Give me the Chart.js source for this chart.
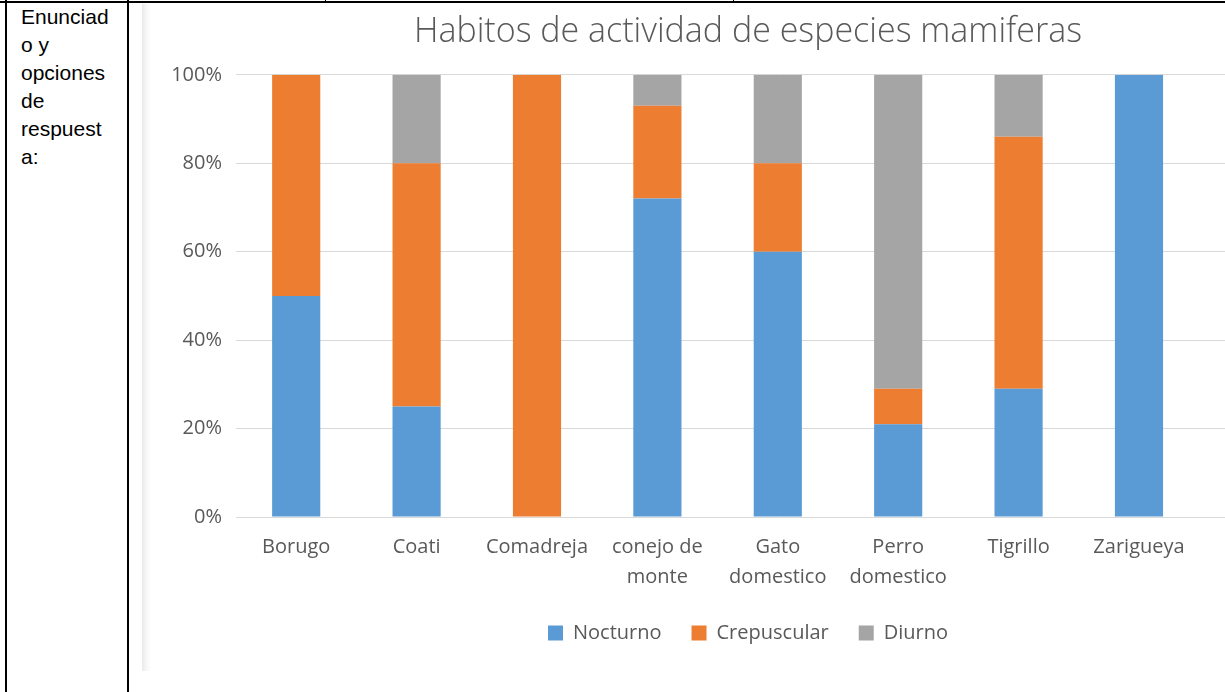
<!DOCTYPE html>
<html lang="es">
<head>
<meta charset="utf-8">
<title>Habitos de actividad de especies mamiferas</title>
<script src="https://cdn.jsdelivr.net/npm/chart.js@4/dist/chart.umd.min.js"></script>
<style>
    html, body {
        margin: 0;
        padding: 0;
        width: 1225px;
        height: 692px;
        overflow: hidden;
        background: #fff;
    }
    .linea { position: absolute; background: #000; }
    .celda {
        position: absolute;
        left: 21px;
        top: 3px;
        font-family: "Liberation Sans", Arial, sans-serif;
        font-size: 21px;
        line-height: 28px;
        color: #000;
    }
    .marco {
        position: absolute;
        left: 142px;
        top: 4px;
        width: 1200px;
        height: 667px;
        background: linear-gradient(to right, #e9e9e9 0px, #f6f6f6 4px, #fff 9px);
    }
    .grafico {
        position: absolute;
        left: 143px;
        top: 4px;
        width: 1200px;
        height: 667px;
    }
</style>
</head>
<body>
<!-- Bordes de la tabla del documento -->
<div class="linea" style="left:0; top:1px; width:1225px; height:2px;"></div>
<div class="linea" style="left:5px; top:0; width:2px; height:692px;"></div>
<div class="linea" style="left:127px; top:0; width:2px; height:692px;"></div>
<div class="linea" style="left:325px; top:0; width:1px; height:3px;"></div>
<div class="linea" style="left:733px; top:0; width:1px; height:3px;"></div>

<div class="celda">Enunciad<br>o y<br>opciones<br>de<br>respuest<br>a:</div>

<div class="marco"></div>
<div class="grafico"><canvas id="habitos-chart"></canvas></div>

<script>
/**
 * Grafico de barras apiladas al 100% - habitos de actividad por especie
 */

// Datos (porcentaje por especie)
const categorias = ['Borugo', 'Coati', 'Comadreja', ['conejo de', 'monte'], ['Gato', 'domestico'], ['Perro', 'domestico'], 'Tigrillo', 'Zarigueya'];
const nocturno = [50, 25, 0, 72, 60, 21, 29, 100];
const crepuscular = [50, 55, 100, 21, 20, 8, 57, 0];
const diurno = [0, 20, 0, 7, 20, 71, 14, 0];
const ticksPorcentaje = [0, 20, 40, 60, 80, 100];

const colorTexto = '#595959';
const fuente = '"Open Sans", "Liberation Sans", sans-serif';

/**
 * Convierte una serie en puntos {x: indice de especie, y: porcentaje}
 */
function aPuntos(serie) {
    return serie.map((valor, i) => ({ x: i, y: valor }));
}

const canvas = document.getElementById('habitos-chart');
const ctx = canvas.getContext('2d');

// El area de trazado sigue mas alla del borde derecho (como en el original)
const habitosChart = new Chart(ctx, {
    type: 'bar',
    data: {
        datasets: [
            { label: 'Nocturno', data: aPuntos(nocturno), backgroundColor: '#5B9BD5' },
            { label: 'Crepuscular', data: aPuntos(crepuscular), backgroundColor: '#ED7D31' },
            { label: 'Diurno', data: aPuntos(diurno), backgroundColor: '#A5A5A5' }
        ]
    },
    options: {
        responsive: true,
        maintainAspectRatio: false,
        animation: false,
        layout: {
            padding: { left: 28, right: 18, top: 0, bottom: 18 }
        },
        datasets: {
            bar: {
                barPercentage: 0.4,
                categoryPercentage: 1
            }
        },
        scales: {
            x: {
                type: 'linear',
                stacked: true,
                offset: false,
                min: -0.5,
                max: 8.545,
                afterBuildTicks: (scale) => {
                    scale.ticks = categorias.map((c, i) => ({ value: i }));
                },
                afterFit: (scale) => {
                    scale.height = 76;
                },
                grid: { display: false, drawTicks: false },
                border: { display: false },
                ticks: {
                    color: colorTexto,
                    padding: 15,
                    maxRotation: 0,
                    autoSkip: false,
                    font: { family: fuente, size: 20, lineHeight: 1.5 },
                    callback: (v) => categorias[v]
                }
            },
            y: {
                stacked: true,
                min: 0,
                max: 100,
                afterBuildTicks: (scale) => {
                    scale.ticks = ticksPorcentaje.map(v => ({ value: v }));
                },
                afterFit: (scale) => {
                    scale.width = 65;
                },
                grid: { color: '#D9D9D9', lineWidth: 1, drawTicks: false },
                border: { display: false },
                ticks: {
                    color: colorTexto,
                    padding: 14,
                    font: { family: fuente, size: 20 },
                    callback: (v) => v + '%'
                }
            }
        },
        plugins: {
            title: {
                display: true,
                text: 'Habitos de actividad de especies mamiferas',
                color: colorTexto,
                font: { family: fuente, size: 34, weight: '300' },
                padding: { top: 8, bottom: 22 }
            },
            legend: {
                position: 'bottom',
                labels: {
                    color: colorTexto,
                    boxWidth: 15,
                    boxHeight: 15,
                    padding: 30,
                    font: { family: fuente, size: 20 }
                }
            },
            tooltip: { enabled: false }
        }
    }
});
</script>
</body>
</html>
